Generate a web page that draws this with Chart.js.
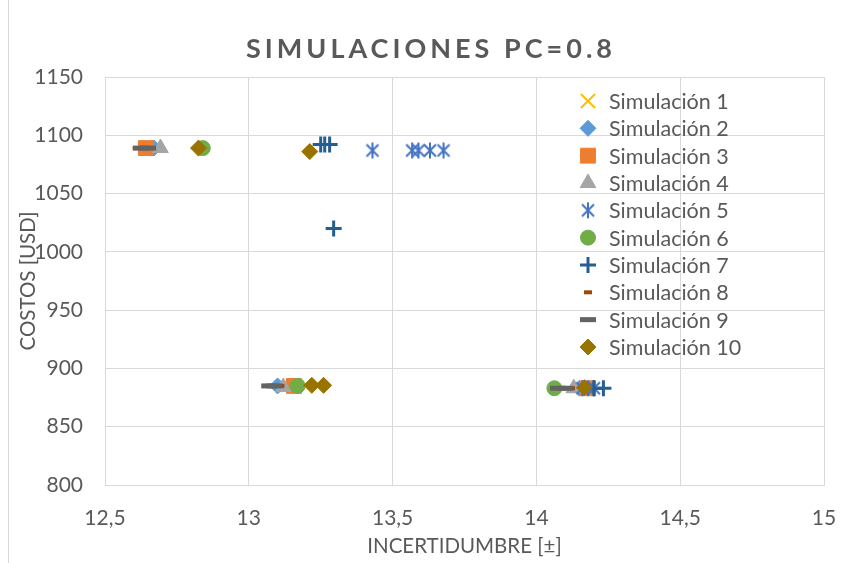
<!DOCTYPE html>
<html><head><meta charset="utf-8">
<script src="https://cdn.jsdelivr.net/npm/chart.js@4/dist/chart.umd.min.js"></script>
<style>html,body{margin:0;padding:0;background:#fff;}#wrap{width:843px;height:563px;position:relative;}</style>
</head><body><div id="wrap"><canvas id="c" width="843" height="563"></canvas></div>
<script>
// ---- data ----
const chartTitle = 'SIMULACIONES PC=0.8';
const xAxisTitle = 'INCERTIDUMBRE [±]';
const yAxisTitle = 'COSTOS [USD]';
const seriesNames = ['Simulación 1','Simulación 2','Simulación 3','Simulación 4','Simulación 5','Simulación 6','Simulación 7','Simulación 8','Simulación 9','Simulación 10'];
const xTickLabels = ['12,5','13','13,5','14','14,5','15'];
const yTickLabels = ['800','850','900','950','1000','1050','1100','1150'];

const sim1X = [12.642, 13.157, 14.18];
const sim1Y = [1089, 885, 883];
const sim2X = [12.67, 13.10, 14.15];
const sim2Y = [1089, 885, 883];
const sim3X = [12.642, 13.157, 14.18];
const sim3Y = [1089, 885, 883];
const sim4X = [12.693, 13.12, 14.13];
const sim4Y = [1089, 884, 883];
const sim5X = [13.43, 13.568, 13.59, 13.63, 13.677, 14.16, 14.18, 14.20];
const sim5Y = [1087, 1087, 1087, 1087, 1087, 883, 883, 883];
const sim6X = [12.84, 13.17, 14.0625];
const sim6Y = [1089, 885, 883];
const sim7X = [13.25, 13.264, 13.281, 13.295, 14.20, 14.233];
const sim7Y = [1092, 1092, 1092, 1020, 883, 883];
const sim8X = [12.61, 13.11, 14.12];
const sim8Y = [1089, 885, 883];
const sim9X = [12.625, 12.65, 13.071, 13.089, 14.075, 14.10];
const sim9Y = [1089, 1089, 885, 885, 883, 883];
const sim10X = [12.825, 13.212, 13.219, 13.26, 14.167];
const sim10Y = [1089, 1086, 885.5, 885.5, 883.5];

const allX = [sim1X, sim2X, sim3X, sim4X, sim5X, sim6X, sim7X, sim8X, sim9X, sim10X];
const allY = [sim1Y, sim2Y, sim3Y, sim4Y, sim5Y, sim6Y, sim7Y, sim8Y, sim9Y, sim10Y];

// ---- styles ----
const colors = ['#FFC000','#5B9BD5','#ED7D31','#A5A5A5','#4472C4','#70AD47','#255E91','#9E480E','#636363','#997300'];
const textColor = '#595959';
const gridColor = '#D9D9D9';
const FONT = 'Lato, "Open Sans", sans-serif';

function makeAsterisk(color) {
  const cv = document.createElement('canvas');
  cv.width = 18; cv.height = 18;
  const g = cv.getContext('2d');
  g.strokeStyle = color; g.lineWidth = 2; g.lineCap = 'butt';
  g.beginPath();
  g.moveTo(9, 1); g.lineTo(9, 17);
  g.moveTo(3, 3); g.lineTo(15, 15);
  g.moveTo(15, 3); g.lineTo(3, 15);
  g.stroke();
  return cv;
}
const asterisk = makeAsterisk(colors[4]);

const markerStyles = [
  {pointStyle: 'crossRot', radius: 10, borderWidth: 2},
  {pointStyle: 'rectRot', radius: 8, borderWidth: 1},
  {pointStyle: 'rect', radius: 10.5, borderWidth: 1},
  {pointStyle: 'triangle', radius: 9, borderWidth: 1},
  {pointStyle: asterisk, radius: 9, borderWidth: 0},
  {pointStyle: 'circle', radius: 7.5, borderWidth: 1},
  {pointStyle: 'cross', radius: 8, borderWidth: 3},
  {pointStyle: 'line', radius: 4, borderWidth: 4},
  {pointStyle: 'line', radius: 8, borderWidth: 5},
  {pointStyle: 'rectRot', radius: 8, borderWidth: 1}
];

const datasets = seriesNames.map((name, i) => ({
  label: name,
  data: allX[i].map((x, j) => ({x: x, y: allY[i][j]})),
  backgroundColor: colors[i],
  borderColor: colors[i],
  pointStyle: markerStyles[i].pointStyle,
  pointRadius: markerStyles[i].radius,
  pointHoverRadius: markerStyles[i].radius,
  pointBorderWidth: markerStyles[i].borderWidth,
  showLine: false,
  order: seriesNames.length - i
}));

const decorPlugin = {
  id: 'decor',
  afterDraw(chart) {
    const ctx = chart.ctx;
    ctx.save();
    // chart frame (left edge)
    ctx.strokeStyle = gridColor; ctx.lineWidth = 1;
    ctx.beginPath(); ctx.moveTo(8.5, 0); ctx.lineTo(8.5, 563); ctx.stroke();
    // title
    ctx.fillStyle = textColor;
    ctx.font = 'bold 27px ' + FONT;
    try { ctx.letterSpacing = '4px'; } catch (e) {}
    ctx.textAlign = 'center'; ctx.textBaseline = 'middle';
    ctx.fillText(chartTitle, 431, 49);
    try { ctx.letterSpacing = '0px'; } catch (e) {}
    // legend
    ctx.font = '21.5px ' + FONT;
    ctx.textAlign = 'left'; ctx.textBaseline = 'middle';
    chart.data.datasets.forEach((ds, i) => {
      const y = 101 + i * 27.33;
      const x = 588;
      const ms = markerStyles[i];
      ctx.fillStyle = colors[i]; ctx.strokeStyle = colors[i]; ctx.lineWidth = ms.borderWidth;
      Chart.helpers.drawPoint(ctx, {pointStyle: ms.pointStyle, radius: ms.radius, borderWidth: ms.borderWidth, rotation: 0}, x, y);
      ctx.fillStyle = textColor;
      ctx.fillText(ds.label, 609, y + 1);
    });
    ctx.restore();
  }
};

new Chart(document.getElementById('c'), {
  type: 'scatter',
  data: {datasets: datasets},
  options: {
    responsive: false,
    animation: false,
    layout: {padding: {top: 77, right: 19, bottom: 0, left: 10}},
    plugins: {legend: {display: false}, title: {display: false}, tooltip: {enabled: false}},
    scales: {
      x: {
        type: 'linear', min: 12.5, max: 15,
        ticks: {stepSize: 0.5, color: textColor, font: {family: FONT, size: 21, lineHeight: '66px'}, padding: 0,
          callback: (v, idx) => xTickLabels[idx]},
        grid: {color: gridColor, drawTicks: false},
        border: {color: gridColor},
        title: {display: true, text: xAxisTitle, color: textColor, font: {family: FONT, size: 20.5}, padding: {top: 6, bottom: 4}},
        afterFit: (s) => { s.height = 78; }
      },
      y: {
        type: 'linear', min: 800, max: 1150,
        ticks: {stepSize: 50, color: textColor, font: {family: FONT, size: 21}, padding: 22,
          callback: (v, idx) => yTickLabels[idx]},
        grid: {color: gridColor, drawTicks: false},
        border: {color: gridColor},
        title: {display: true, text: yAxisTitle, color: textColor, font: {family: FONT, size: 20.5}, padding: {top: 6, bottom: 0}},
        afterFit: (s) => { s.width = 95; }
      }
    }
  },
  plugins: [decorPlugin]
});
</script>
</body></html>
